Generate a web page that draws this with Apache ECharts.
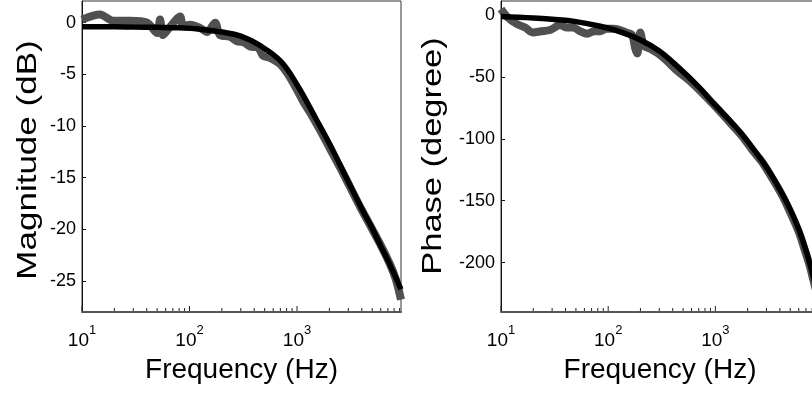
<!DOCTYPE html>
<html>
<head>
<meta charset="utf-8">
<script src="https://cdn.jsdelivr.net/npm/echarts@6/dist/echarts.min.js"></script>
<style>html,body{margin:0;padding:0;background:#fff;}#c{width:812px;height:394px;}</style>
</head>
<body>
<div id="c"></div>
<script>
// ---- data ----
const magFitFreq = [10, 20, 30, 50, 80, 120, 200, 300, 450, 700, 1000, 1500, 2000, 3000, 4000, 5000, 6000, 7000, 8000, 9270];
const magFit     = [-0.4, -0.4, -0.42, -0.45, -0.5, -0.6, -0.9, -1.3, -2.2, -3.7, -6.0, -9.3, -11.7, -15.4, -18.0, -19.9, -21.6, -23.0, -24.3, -25.8];

const magMeasFreq = [10, 14.7, 19.4, 28, 40.3, 49.9, 53.2, 56.7, 65.9, 81.6, 87.1, 101, 125, 146, 173, 192, 238, 277, 320, 366, 434, 483, 561, 695, 825, 1000, 1138, 1321, 1637, 2027, 2512, 3112, 3855, 4775, 5915, 7328, 8336, 9270];
const magMeas     = [0.3, 0.8, 0.2, 0.2, 0.0, -1.0, 0.3, -1.2, -0.4, 0.6, -0.3, -0.2, -0.5, -0.9, 0.0, -1.2, -1.35, -1.8, -1.9, -2.3, -2.4, -3.2, -3.4, -4.0, -5.0, -6.5, -7.6, -8.7, -10.4, -12.2, -14.0, -15.9, -17.8, -19.6, -21.4, -23.4, -24.9, -26.8];

const phFitFreq = [10, 20, 30, 50, 80, 120, 200, 300, 450, 700, 1000, 1500, 2000, 3000, 4000, 5000, 6000, 7000, 8000, 9270];
const phFit     = [-1, -2.2, -3.3, -5.2, -8.5, -12.5, -20, -29, -42, -58, -73, -89, -102, -123, -141, -157, -173, -190, -208, -230];

const phMeasFreq = [10, 11.6, 14, 16.8, 19.9, 23.6, 28.7, 35.6, 41.4, 47.1, 54.9, 63.6, 73.9, 84.2, 95.7, 111, 129, 147, 167, 179, 187, 199, 217, 247, 293, 355, 441, 558, 719, 932, 1163, 1441, 1786, 2214, 2745, 3402, 4217, 5033, 5992, 6836, 7621, 8150, 9270];
const phMeas     = [5, -2, -7, -10, -14, -13, -12, -8, -10, -10, -13, -15, -13, -13, -11, -11, -12, -14, -16, -27, -31, -14, -25, -27, -31, -37, -45, -52, -61, -71, -80, -89, -98, -109, -119, -132, -146, -160, -175, -190, -203, -213, -232];

const xTickFreqs = [10,20,30,40,50,60,70,80,90,100,200,300,400,500,600,700,800,900,1000,2000,3000,4000,5000,6000,7000,8000,9000];
const xMin = 10, xMax = 9270;
const magMin = -28, magMax = 2.1;
const phMin = -240, phMax = 11.5;

const xAxisName = 'Frequency (Hz)';
const magName = 'Magnitude (dB)';
const phName = 'Phase (degree)';

// ---- helpers ----
const zip = (a, b) => a.map((v, i) => [v, b[i]]);
const FONT = 'Liberation Sans, Arial, sans-serif';
const isPow10 = v => Math.abs(Math.log10(v) - Math.round(Math.log10(v))) < 1e-9;

function xAxisCfg(gi) {
  return {
    type: 'log', logBase: 10, gridIndex: gi, min: xMin, max: xMax,
    name: xAxisName, nameLocation: 'middle', nameGap: 44,
    nameTextStyle: { fontFamily: FONT, fontSize: 28, color: '#000' },
    axisLine: { show: true, onZero: false, lineStyle: { color: '#555', width: 2 } },
    axisTick: { show: false },
    splitLine: { show: false },
    axisLabel: {
      margin: 12, color: '#000',
      formatter: v => isPow10(v) ? '{b|10}{s|' + Math.round(Math.log10(v)) + '}' : '',
      rich: {
        b: { fontFamily: FONT, fontSize: 19, lineHeight: 26, verticalAlign: 'bottom', color: '#000' },
        s: { fontFamily: FONT, fontSize: 13, lineHeight: 13, verticalAlign: 'top', color: '#000' }
      }
    }
  };
}
function yAxisCfg(gi, mn, mx, split, step) {
  return {
    type: 'value', gridIndex: gi, min: mn, max: mx, splitNumber: split,
    axisLine: { show: true, onZero: false, lineStyle: { color: '#111', width: 1 } },
    axisTick: { show: true, inside: true, length: 4, lineStyle: { color: '#111' } },
    splitLine: { show: false },
    axisLabel: {
      margin: 6, color: '#000', fontFamily: FONT, fontSize: 18,
      showMinLabel: false, showMaxLabel: false,
      formatter: v => (Math.abs(v / step - Math.round(v / step)) < 1e-6) ? String(v) : ''
    }
  };
}
function tickSeries(gi, yMin) {
  return {
    type: 'custom', xAxisIndex: gi, yAxisIndex: gi, silent: true, clip: false, z: 5,
    data: xTickFreqs.map(f => [f, yMin]),
    renderItem: (params, api) => {
      const f = api.value(0);
      const p = api.coord([f, api.value(1)]);
      const len = isPow10(f) ? 5 : 3;
      return { type: 'line', shape: { x1: p[0], y1: p[1] - 1, x2: p[0], y2: p[1] - 1 - len },
               style: { stroke: '#222', lineWidth: 1 } };
    }
  };
}

const chart = echarts.init(document.getElementById('c'), null, { renderer: 'canvas' });
chart.setOption({
  animation: false,
  backgroundColor: '#fff',
  grid: [
    { left: 82, top: 1, width: 319, height: 311, outerBoundsMode: 'none', containLabel: false, show: true, borderColor: '#333', borderWidth: 1, backgroundColor: 'transparent' },
    { left: 501, top: 1, width: 318, height: 311, outerBoundsMode: 'none', containLabel: false, show: true, borderColor: '#333', borderWidth: 1, backgroundColor: 'transparent' }
  ],
  xAxis: [xAxisCfg(0), xAxisCfg(1)],
  yAxis: [yAxisCfg(0, magMin, magMax, 6, 5), yAxisCfg(1, phMin, phMax, 5, 50)],
  graphic: [
    { type: 'text', x: 28, y: 160, rotation: Math.PI / 2, scaleX: 1.25,
      style: { text: magName, fontFamily: FONT, fontSize: 28, fill: '#000', textAlign: 'center', textVerticalAlign: 'middle' } },
    { type: 'text', x: 433, y: 156, rotation: Math.PI / 2, scaleX: 1.23,
      style: { text: phName, fontFamily: FONT, fontSize: 28, fill: '#000', textAlign: 'center', textVerticalAlign: 'middle' } }
  ],
  series: [
    { type: 'line', xAxisIndex: 0, yAxisIndex: 0, data: zip(magMeasFreq, magMeas), showSymbol: false, smooth: 0.3,
      lineStyle: { color: '#505050', width: 8 }, z: 2 },
    { type: 'line', xAxisIndex: 0, yAxisIndex: 0, data: zip(magFitFreq, magFit), showSymbol: false, smooth: 0.4,
      lineStyle: { color: '#000', width: 5.5 }, z: 3 },
    { type: 'line', xAxisIndex: 1, yAxisIndex: 1, data: zip(phMeasFreq, phMeas), showSymbol: false, smooth: 0.3,
      lineStyle: { color: '#505050', width: 8 }, z: 2 },
    { type: 'line', xAxisIndex: 1, yAxisIndex: 1, data: zip(phFitFreq, phFit), showSymbol: false, smooth: 0.4,
      lineStyle: { color: '#000', width: 5.5 }, z: 3 },
    tickSeries(0, magMin),
    tickSeries(1, phMin)
  ]
});
</script>
</body>
</html>
